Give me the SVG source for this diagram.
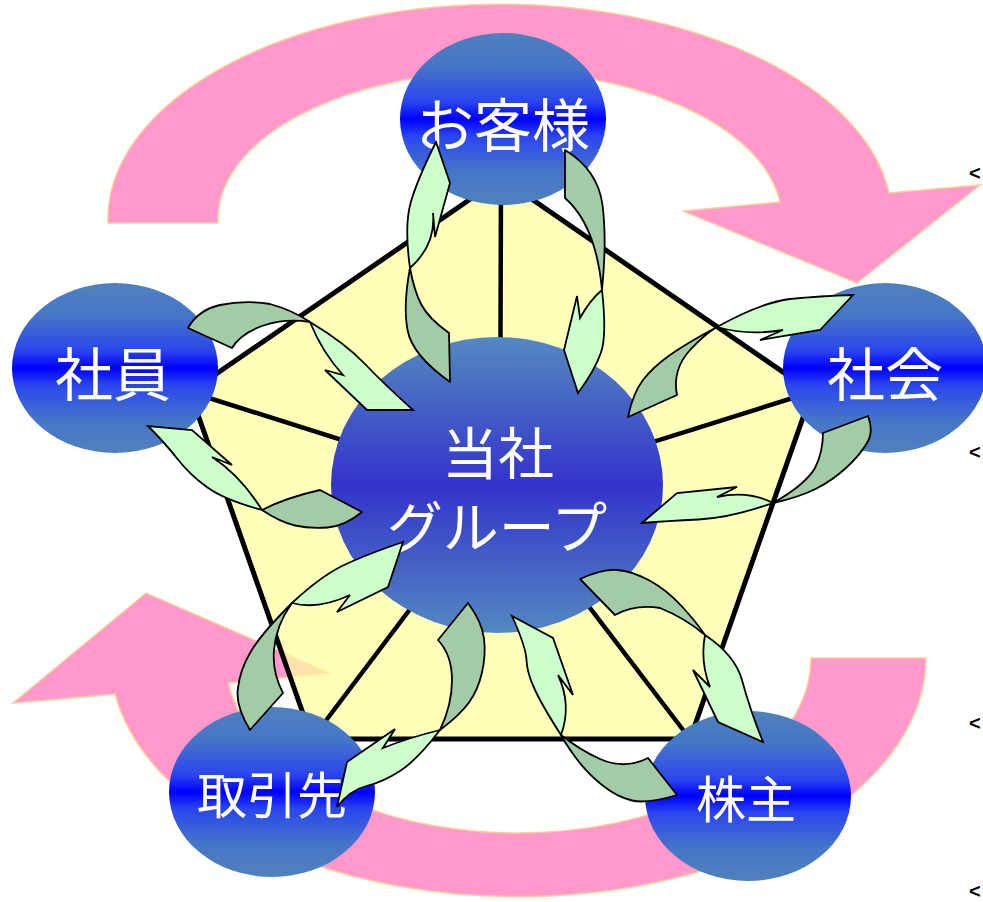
<svg xmlns="http://www.w3.org/2000/svg" width="983" height="902" viewBox="0 0 983 902">
<defs>
<linearGradient id="gNode" x1="0" y1="0" x2="0" y2="1">
<stop offset="0" stop-color="#4F81BD"/>
<stop offset="0.2" stop-color="#4575C8"/>
<stop offset="0.4" stop-color="#2A45EE"/>
<stop offset="0.5" stop-color="#0000FF"/>
<stop offset="0.6" stop-color="#2A45EE"/>
<stop offset="0.8" stop-color="#4575C8"/>
<stop offset="1" stop-color="#4F81BD"/>
</linearGradient>
<linearGradient id="gCore" x1="0" y1="0" x2="0" y2="1">
<stop offset="0" stop-color="#5489C0"/>
<stop offset="0.5" stop-color="#3333CC"/>
<stop offset="1" stop-color="#5489C0"/>
</linearGradient>
<style>
.pink{fill:#FF99CC;stroke:#FFCC99;stroke-width:1.5}
.pent{fill:rgb(255,255,160);fill-opacity:0.72;stroke:#000;stroke-width:5}
.spoke{stroke:#000;stroke-width:4.5}
.node{fill:url(#gNode)}
.core{fill:url(#gCore)}
.lbl{fill:#fff;font-family:"Noto Sans CJK JP","Noto Sans CJK SC",sans-serif;text-anchor:middle}
.dk{fill:#A3CBA5;stroke:#000;stroke-width:1.8;stroke-linejoin:round}
.lt{fill:#CCFFCC;stroke:#000;stroke-width:1.8;stroke-linejoin:miter}
.mk{font-family:"Liberation Sans",sans-serif;font-weight:bold;font-size:20px;fill:#000}
</style>
</defs>
<g id="cycle">
<path class="pink" d="M108,223 A392,215 0 0 1 889,193 L980,185 L857,283 L683,211 L780,202 A282,148 0 0 0 218,223 Z"/>
<path class="pink" d="M926,658 A408,240 0 0 1 115,694 L13,703 L146,593 L330,673 L228,683 A293,175 0 0 0 811,658 Z"/>
</g>
<g id="frame">
<polygon class="pent" points="501,178 812,392 690,739 312,739 190,392"/>
<line class="spoke" x1="500" y1="490" x2="501" y2="178"/>
<line class="spoke" x1="500" y1="490" x2="812" y2="392"/>
<line class="spoke" x1="500" y1="490" x2="690" y2="739"/>
<line class="spoke" x1="500" y1="490" x2="312" y2="739"/>
<line class="spoke" x1="500" y1="490" x2="190" y2="392"/>
</g>
<g id="node-center">
<ellipse class="core" cx="497" cy="485" rx="166" ry="148"/>
<text class="lbl" x="498" y="474" font-size="56">当社</text>
<text class="lbl" x="497" y="548" font-size="56">グループ</text>
</g>
<g id="node-okyakusama">
<ellipse class="node" cx="503" cy="119" rx="103" ry="86"/>
<text class="lbl" x="503" y="147" font-size="58">お客様</text>
</g>
<g id="node-shain">
<ellipse class="node" cx="115" cy="368" rx="103" ry="85"/>
<text class="lbl" x="113" y="396" font-size="58">社員</text>
</g>
<g id="node-shakai">
<ellipse class="node" cx="885" cy="368" rx="102" ry="85"/>
<text class="lbl" x="885" y="396" font-size="58">社会</text>
</g>
<g id="node-torihikisaki">
<ellipse class="node" cx="272" cy="792" rx="103" ry="85"/>
<text class="lbl" x="272" y="814" font-size="50">取引先</text>
</g>
<g id="node-kabunushi">
<ellipse class="node" cx="748" cy="796" rx="103" ry="85"/>
<text class="lbl" x="746" y="818" font-size="50">株主</text>
</g>
<g id="connectors">
<path class="dk" d="M410,268 Q403,305 407.5,330 Q412,355 450,382 L449,333 Q428,318 421,304 Q414,290 410,268 Z"/>
<path class="lt" d="M410,268 Q404,225 411,201.5 Q418,178 436,142 L450,183 L435,237 L433,213 Q436,245 410,268 Z"/>
<path class="dk" d="M565,150 Q598,170 602.5,205 Q607,240 602,290 Q596,225 565,198 Z"/>
<path class="lt" d="M602,290 Q607,335 601,352.5 Q595,370 578,393 L564,350 L577,296 L580,318 Q590,300 602,290 Z"/>
<path class="dk" d="M717,327 Q687,343 670,355 Q653,367 643,380 Q633,393 628,417 L677,395 Q672,370 690,350 Q705,334 717,327 Z"/>
<path class="lt" d="M717,327 Q760,303 790,299 Q820,296 853,295 L820,330 L760,340 L783,330 Q748,336 717,327 Z"/>
<path class="dk" d="M868,416 Q874,432 867,443 Q860,455 846.5,467.5 Q833,480 816.5,488.5 Q800,497 773,503 Q805,485 815,468 Q823,452 823,433 Z"/>
<path class="lt" d="M773,503 Q730,518 698.5,519.5 Q667,521 642,523 L677,493 L737,487 L717,497 Q748,490 773,503 Z"/>
<path class="dk" d="M188,328 Q198,310 220,305 Q245,300 270,304 Q292,310 310,322 Q285,318 262,326 Q240,334 232,348 Z"/>
<path class="lt" d="M310,322 Q345,343 365,364 Q385,385 413,410 L367,410 L325,370 L343,375 Q322,352 310,322 Z"/>
<path class="dk" d="M362,512 Q345,526 327.5,527.5 Q310,529 295,525.5 Q280,522 262,510 Q285,498 320,490 Z"/>
<path class="lt" d="M262,510 Q225,500 207.5,487.5 Q190,475 177.5,459 Q165,443 148,426 L192,430 L232,465 L212,457 Q240,475 262,510 Z"/>
<path class="dk" d="M250,730 Q235,705 238,688 Q240,670 250,653 Q260,635 292,603 Q276,625 274,650 Q272,672 283,693 Z"/>
<path class="lt" d="M292,603 Q320,577 342,566 Q365,555 403,542 L388,587 L337,612 L350,595 Q318,610 292,603 Z"/>
<path class="dk" d="M468,603 Q482,622 484,638.5 Q486,655 482,672.5 Q478,690 469,702.5 Q460,715 440,730 Q452,705 452,680 Q452,655 438,640 Z"/>
<path class="lt" d="M440,730 Q417,760 400,771 Q383,782 366.5,786 Q350,790 337,807 L347,762 L395,729 L383,748 Q408,738 440,730 Z"/>
<path class="dk" d="M580,579 Q602,569 617,570 Q632,571 649.5,580.5 Q667,590 682,606.5 Q697,623 705,635 Q685,618 660,608 Q635,604 615,615 Z"/>
<path class="lt" d="M705,635 Q735,655 742,680 Q750,710 763,742 L718,722 L693,670 L710,687 Q700,662 705,635 Z"/>
<path class="dk" d="M677,795 Q647,804 632,800.5 Q617,797 602,785 Q587,773 576,758 Q565,743 561,735 Q580,750 600,759 Q625,770 648,758 Z"/>
<path class="lt" d="M561,735 Q543,707 535,690 Q527,673 526.5,660 Q526,647 512,616 L553,638 L573,695 L558,675 Q572,705 561,735 Z"/>
</g>
<g id="marks">
<text class="mk" x="969" y="180">&lt;</text>
<text class="mk" x="969" y="459">&lt;</text>
<text class="mk" x="969" y="730">&lt;</text>
<text class="mk" x="969" y="898">&lt;</text>
</g>
</svg>
